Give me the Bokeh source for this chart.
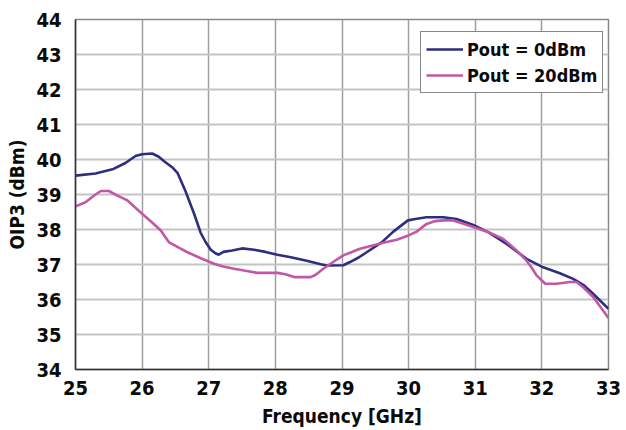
from bokeh.plotting import figure
from bokeh.models import Legend, LegendItem, Range1d, FixedTicker
from bokeh.embed import file_html
from bokeh.resources import INLINE

freq_0 = [25.0, 25.3, 25.57, 25.75, 25.9, 26.0, 26.15, 26.25, 26.33, 26.45, 26.53, 26.65, 26.72, 26.78, 26.88,
          26.95, 27.03, 27.1, 27.15, 27.22, 27.35, 27.5, 27.68, 27.85, 28.03, 28.25, 28.47, 28.68, 28.77, 29.02,
          29.12, 29.25, 29.37, 29.6, 29.77, 29.99, 30.1, 30.27, 30.52, 30.72, 30.97, 31.2, 31.47, 31.77, 32.02,
          32.27, 32.47, 32.62, 32.75, 33.0]
oip3_0 = [39.54, 39.6, 39.73, 39.9, 40.1, 40.15, 40.17, 40.08, 39.95, 39.78, 39.62, 39.1, 38.75, 38.45, 37.9,
          37.65, 37.42, 37.32, 37.28, 37.36, 37.4, 37.46, 37.42, 37.36, 37.28, 37.2, 37.11, 37.01, 36.97, 36.98,
          37.07, 37.2, 37.35, 37.64, 37.94, 38.26, 38.3, 38.35, 38.35, 38.3, 38.13, 37.92, 37.59, 37.16, 36.92,
          36.75, 36.59, 36.42, 36.2, 35.73]

freq_20 = [25.0, 25.15, 25.3, 25.38, 25.5, 25.63, 25.78, 25.9, 26.0, 26.15, 26.28, 26.4, 26.55, 26.68, 26.88,
           27.08, 27.2, 27.38, 27.55, 27.73, 28.03, 28.15, 28.28, 28.53, 28.6, 28.72, 28.85, 29.02, 29.27, 29.62,
           29.82, 30.0, 30.12, 30.27, 30.4, 30.52, 30.67, 30.8, 30.97, 31.2, 31.42, 31.62, 31.77, 31.85, 31.92,
           32.05, 32.22, 32.42, 32.52, 32.62, 32.77, 33.0]
oip3_20 = [38.66, 38.78, 39.0, 39.1, 39.1, 38.97, 38.83, 38.62, 38.45, 38.2, 37.97, 37.64, 37.48, 37.35, 37.18,
           37.02, 36.95, 36.88, 36.82, 36.76, 36.76, 36.72, 36.64, 36.64, 36.7, 36.88, 37.05, 37.26, 37.45, 37.62,
           37.71, 37.83, 37.94, 38.16, 38.24, 38.26, 38.26, 38.18, 38.07, 37.92, 37.73, 37.4, 37.11, 36.9, 36.69,
           36.45, 36.45, 36.5, 36.5, 36.35, 36.07, 35.47]

x_ticks = [25, 26, 27, 28, 29, 30, 31, 32, 33]
y_ticks = [34, 35, 36, 37, 38, 39, 40, 41, 42, 43, 44]
labels = ["Pout = 0dBm", "Pout = 20dBm"]

FONT = "DejaVu Sans Condensed"
BLUE = "#2e2d7e"
PINK = "#c257a6"

p = figure(width=626, height=430, output_backend="svg", toolbar_location=None,
           x_range=Range1d(25, 33), y_range=Range1d(34, 44))
p.min_border_left = 75
p.min_border_right = 18
p.min_border_top = 19
p.min_border_bottom = 61
p.outline_line_color = "#888888"
p.outline_line_width = 1.5

r0 = p.line(freq_0, oip3_0, line_color=BLUE, line_width=2.6)
r1 = p.line(freq_20, oip3_20, line_color=PINK, line_width=2.6)

p.xaxis.ticker = FixedTicker(ticks=x_ticks)
p.yaxis.ticker = FixedTicker(ticks=y_ticks)
p.xgrid.grid_line_color = "#9e9e9e"
p.xgrid.grid_line_width = 1.5
p.ygrid.grid_line_color = "#c4c4c4"
p.ygrid.grid_line_width = 2

for ax in (p.xaxis[0], p.yaxis[0]):
    ax.axis_line_color = "#333333"
    ax.axis_line_width = 1.5
    ax.major_tick_line_color = None
    ax.minor_tick_line_color = None
    ax.major_label_text_font = FONT
    ax.major_label_text_font_style = "bold"
    ax.major_label_text_font_size = "20px"
    ax.major_label_text_color = "#0a0a0a"
    ax.axis_label_text_font = FONT
    ax.axis_label_text_font_style = "bold"
    ax.axis_label_text_font_size = "19px"
    ax.axis_label_text_color = "#0a0a0a"

p.xaxis.axis_label = "Frequency [GHz]"
p.yaxis.axis_label = "OIP3 (dBm)"
p.xaxis.major_label_standoff = 5
p.yaxis.major_label_standoff = 8
p.xaxis.axis_label_standoff = 7
p.yaxis.axis_label_standoff = 5

legend = Legend(items=[LegendItem(label=labels[0], renderers=[r0]),
                       LegendItem(label=labels[1], renderers=[r1])],
                location=(345, 276))
legend.label_text_font = FONT
legend.label_text_font_style = "bold"
legend.label_text_font_size = "18px"
legend.label_text_color = "#0a0a0a"
legend.glyph_width = 37
legend.glyph_height = 24
legend.label_height = 24
legend.label_standoff = 4
legend.spacing = 2
legend.padding = 5
legend.margin = 0
legend.border_line_color = "#111111"
legend.border_line_width = 1.5
legend.background_fill_alpha = 1.0
p.add_layout(legend, "center")

open("out.html", "w").write(file_html(p, INLINE))
